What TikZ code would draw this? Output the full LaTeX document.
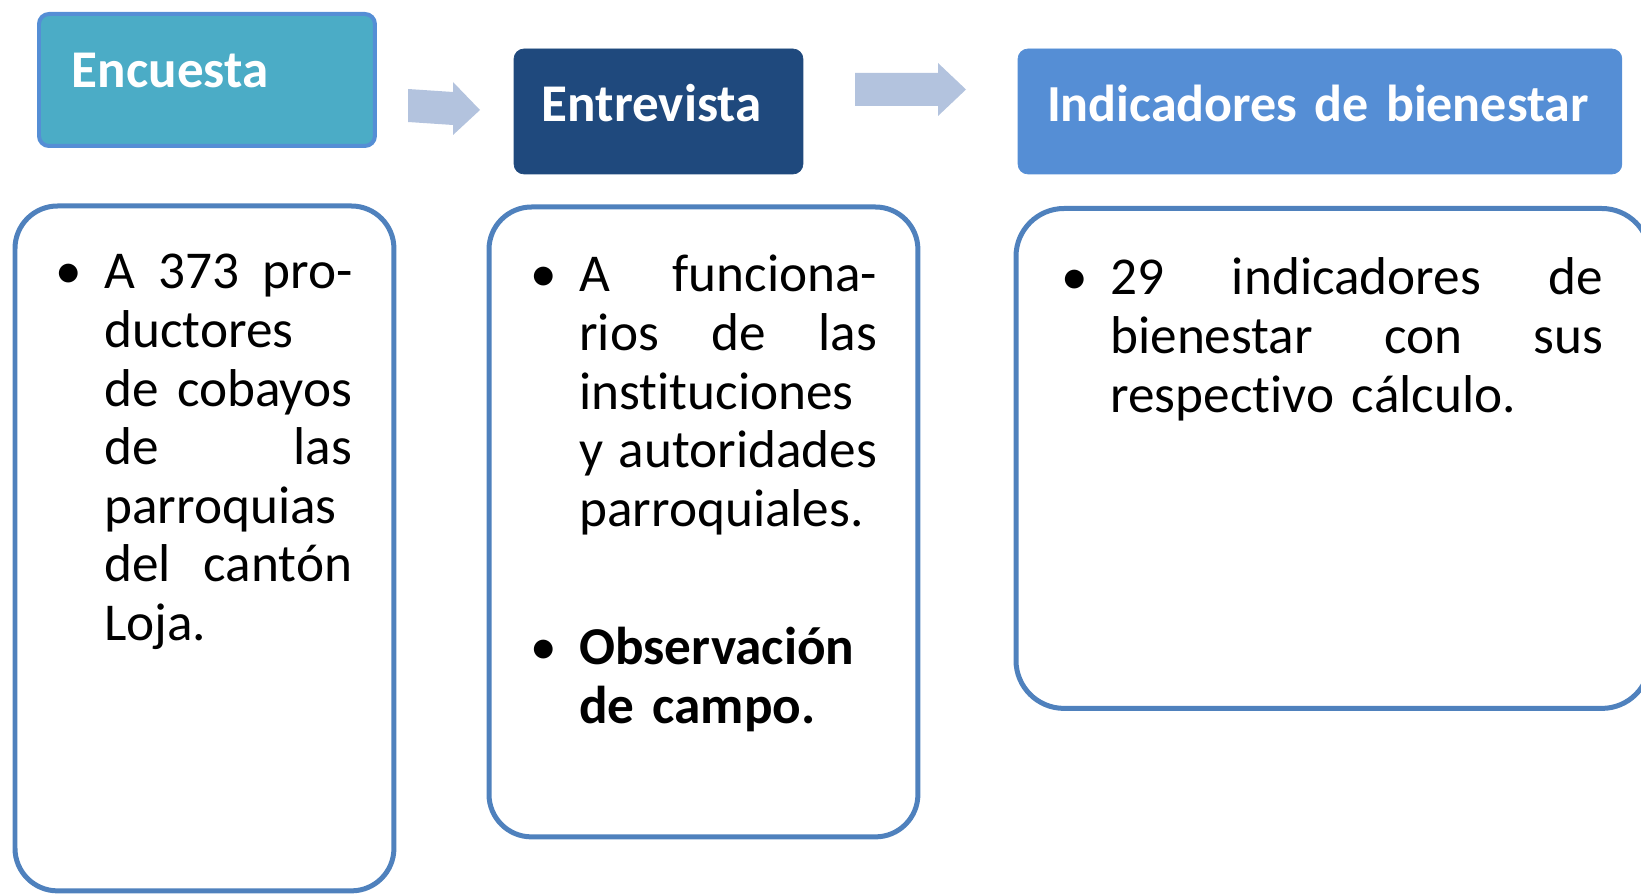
\documentclass[tikz,border=0pt]{standalone}
\usepackage{fontspec}
\setmainfont{Carlito}[Ligatures=CommonOff]
\usepackage{xcolor}
\usepackage{tikz}

\definecolor{encfill}{HTML}{4BACC6}
\definecolor{encline}{HTML}{558ED5}
\definecolor{entfill}{HTML}{1F497D}
\definecolor{indfill}{HTML}{558ED5}
\definecolor{arrowfill}{HTML}{B3C3DE}
\definecolor{panelline}{HTML}{4F81BD}

\newlength{\pxu}
\setlength{\pxu}{0.02cm}
\newcommand{\bul}{\leavevmode\llap{\makebox[72\pxu][c]{\textbullet}}}
\newcommand{\jline}[1]{{\spaceskip=0pt\relax\makebox[\hsize][s]{#1}}}

\begin{document}
\begin{tikzpicture}[x=0.02cm,y=0.02cm,
    head/.style={draw,rounded corners=0.2cm,anchor=north west,outer sep=0pt,inner ysep=0pt,
      text=white,font=\fontsize{30.2}{34}\selectfont\bfseries,text height=0.8cm},
    panel/.style={draw=panelline,line width=0.1cm,rounded corners=0.85cm,anchor=north west,outer sep=0pt},
    body/.style={anchor=base west,inner sep=0pt,font=\fontsize{30.3}{33.3}\selectfont},
    blockarrow/.style={fill=arrowfill}]
                \useasboundingbox (0,0) rectangle (1641,-895);
                % Heading boxes
                \node[head,fill=encfill,draw=encline,line width=0.08cm,minimum width=6.72cm,minimum height=2.64cm,
                  inner xsep=0.66cm,text width=5.4cm,text depth=0.48cm] (encuesta) at (39,-14) {Encuesta};
                \node[head,fill=entfill,draw=entfill,minimum width=5.78cm,minimum height=2.5cm,
                  inner xsep=0.56cm,text width=4.66cm,text depth=0.38cm] (entrevista) at (514,-49) {Entrevista};
                \node[head,fill=indfill,draw=indfill,minimum width=12.08cm,minimum height=2.5cm,
                  font=\fontsize{29.6}{34}\selectfont\bfseries,
                  inner xsep=0.58cm,text width=10.92cm,text depth=0.38cm] (indicadores) at (1018,-49) {\mbox{Indicadores de bienestar}};
                % Block arrows between the headings
                \fill[blockarrow] (408,-89) -- (453,-92) -- (453,-82) -- (480,-110) -- (453,-135) -- (453,-125) -- (408,-122) -- cycle;
                \fill[blockarrow] (855,-73) -- (938,-73) -- (938,-63) -- (966,-89.5) -- (938,-116) -- (938,-106) -- (855,-106) -- cycle;
                % Panels under the headings
                \node[panel,minimum width=7.58cm,minimum height=13.7cm] (panA) at (15,-206) {};
                \node[panel,minimum width=8.58cm,minimum height=12.6cm] (panB) at (489,-207) {};
                \node[panel,rounded corners=0.96cm,minimum width=12.68cm,minimum height=10cm] (panC) at (1016,-208.5) {};
                % Bullet texts
                \node[body,text width=4.96cm] (txtA) at (104,-289) {\bul\jline{A 373 pro-}\\ductores\\\jline{de cobayos}\\\jline{de las}\\parroquias\\\jline{del cantón}\\Loja.};
                \node[body,text width=5.96cm] (txtB) at (579,-292) {\bul\jline{A funciona-}\\\jline{rios de las}\\instituciones\\\jline{y autoridades}\\parroquiales.\\[80\pxu]
                  \bul\textbf{Observación}\\\textbf{de campo.}};
                \node[body,text width=9.86cm] (txtC) at (1110,-295) {\bul\jline{29 indicadores de}\\\jline{bienestar con sus}\\respectivo cálculo.};
            \end{tikzpicture}
\end{document}
